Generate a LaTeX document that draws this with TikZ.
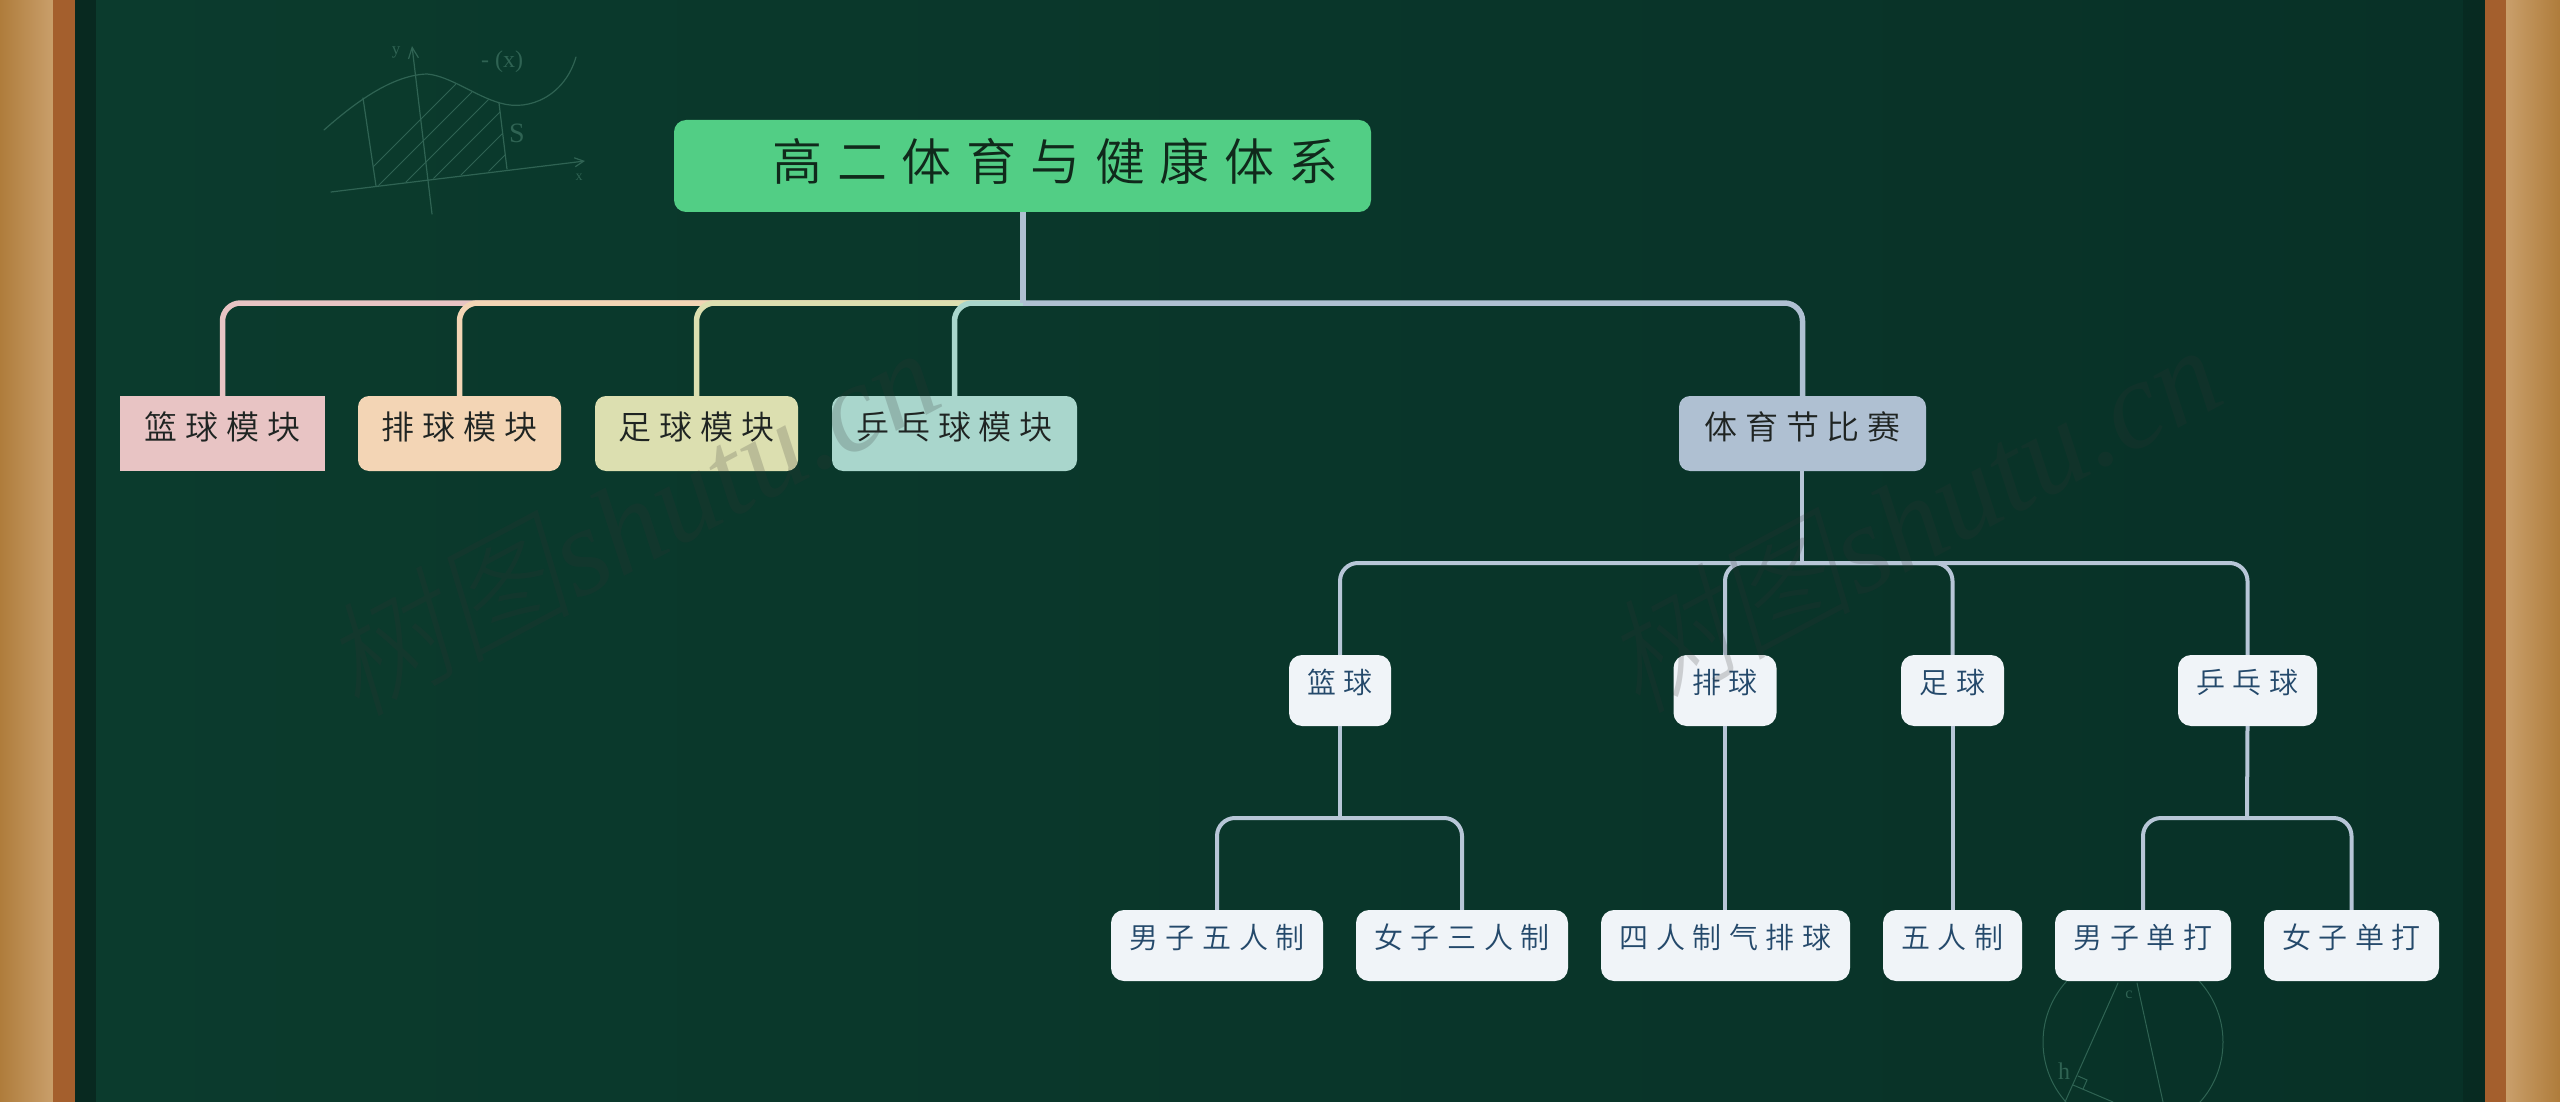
\documentclass[tikz,border=0pt]{standalone}
\usepackage{fontspec}
\setmainfont{Noto Sans CJK SC DemiLight}
\newfontfamily\rootfont[LetterSpace=29]{Noto Sans CJK SC DemiLight}
\newfontfamily\modfont[LetterSpace=24]{Noto Sans CJK SC DemiLight}
\newfontfamily\subfont[LetterSpace=26]{Noto Sans CJK SC DemiLight}
\newfontfamily\wmfont{Liberation Serif}
\newfontfamily\wmcjk[FakeSlant=0.2]{Noto Sans CJK SC Light}
\usetikzlibrary{arrows.meta}
\definecolor{boardl}{HTML}{0B3B2D}
\definecolor{boardr}{HTML}{083127}
\definecolor{woodd}{HTML}{AF7C3B}
\definecolor{woodl}{HTML}{C99F6B}
\definecolor{trim}{HTML}{A45F2D}
\definecolor{chalk}{HTML}{2F6353}
\definecolor{rootc}{HTML}{52CE85}
\definecolor{pinkc}{HTML}{E8C4C4}
\definecolor{peachc}{HTML}{F3D5B5}
\definecolor{olivec}{HTML}{DCDFB0}
\definecolor{tealc}{HTML}{A9D6CC}
\definecolor{bluec}{HTML}{AFC0D2}
\definecolor{leafc}{HTML}{F0F4F8}
\definecolor{leaftext}{HTML}{24496B}
\definecolor{modtext}{HTML}{1F2422}
\tikzset{rootbox/.style={fill=rootc,rounded corners=12pt,inner sep=0pt,minimum width=697pt,
           text height=61pt,text depth=31pt,text=black!80!rootc,font=\rootfont\fontsize{50}{60}\selectfont},
         modbox/.style={rounded corners=11pt,inner sep=0pt,text height=43pt,text depth=32pt,
           text=modtext,font=\modfont\fontsize{33}{40}\selectfont},
         subbox/.style={fill=leafc,rounded corners=13pt,inner sep=0pt,text height=38pt,text depth=33pt,
           text=leaftext,font=\subfont\fontsize{29}{35}\selectfont},
         link/.style={line width=5.5pt,rounded corners=18pt},
         sublink/.style={line width=4pt,color=bluec!90!white,rounded corners=18pt},
         sketch/.style={color=chalk,line width=1.2pt,line cap=round},
         wmark/.style={color=black!80,opacity=.2,rotate=28,font=\wmfont\itshape\fontsize{125}{140}\selectfont},
         }
\begin{document}
\begin{tikzpicture}[x=1pt,y=-1pt]
\useasboundingbox (0,0) rectangle (2560,1102);
% board and frame
\shade[left color=boardl,right color=boardr] (75,0) rectangle (2485,1102);
\fill[boardl!70!black] (75,0) rectangle (96,1102);
\fill[boardr!85!black] (2463,0) rectangle (2485,1102);
\shade[left color=woodd,right color=woodl] (0,0) rectangle (53,1102);
\shade[left color=woodl,right color=woodd] (2506,0) rectangle (2560,1102);
\fill[trim] (53,0) rectangle (75,1102);
\fill[trim] (2485,0) rectangle (2506,1102);
% chalk sketches
\begin{scope}
\clip (363,98) .. controls (395,78) and (410,74) .. (427,74) .. controls (450,78) and (475,96) .. (499,103)
  -- (507,169) -- (376,186) -- cycle;
\foreach \d in {0,24,...,312} {
  \draw[sketch,line width=1pt] (340+\d,200) -- (480+\d,60);
}
\end{scope}
\draw[sketch] (324,130) .. controls (360,98) and (395,75) .. (427,74)
  .. controls (450,76) and (475,96) .. (500,103)
  .. controls (530,112) and (565,95) .. (576,57);
\draw[sketch,-{Straight Barb[length=9pt,width=9pt]}] (331,192) -- (585,161);
\draw[sketch,-{Straight Barb[length=11pt,width=10pt]}] (432,214) -- (412,46);
\draw[sketch] (363,98) -- (376,186);
\draw[sketch] (499,103) -- (507,169);
\node[color=chalk,font=\wmfont\fontsize{17}{20}\selectfont] (lbly) at (396,52) {y};
\node[color=chalk,font=\wmfont\fontsize{28}{30}\selectfont] (lbls) at (517,133) {S};
\node[color=chalk,font=\wmfont\fontsize{14}{16}\selectfont] (lblx) at (579,177) {x};
\node[color=chalk,font=\wmfont\fontsize{24}{26}\selectfont] (lblf) at (502,62) {- (x)};
\draw[sketch,line width=1pt] (2133,1042) circle (90);
\draw[sketch,line width=1pt] (2118,983) -- (2065,1102);
\draw[sketch,line width=1pt] (2137,983) -- (2163,1102);
\draw[sketch,line width=1pt] (2073,1085) -- (2113,1102);
\draw[sketch,line width=1pt] (2078,1076) -- (2087,1080) -- (2083,1089);
\node[color=chalk,font=\wmfont\fontsize{24}{26}\selectfont] (lblh) at (2064,1071) {h};
\node[color=chalk,font=\wmfont\fontsize{16}{18}\selectfont] (lblc) at (2129,995) {c};
% boxes
\node[rootbox] (root) at (1022.5,166) {\hspace*{66pt}高二体育与健康体系};
\node[modbox,fill=pinkc,rounded corners=0pt,minimum width=205pt] (basket) at (222.5,433.5) {篮球模块};
\node[modbox,fill=peachc,minimum width=203pt] (volley) at (459.5,433.5) {排球模块};
\node[modbox,fill=olivec,minimum width=203pt] (foot) at (696.5,433.5) {足球模块};
\node[modbox,fill=tealc,minimum width=245pt] (pingpong) at (954.5,433.5) {乒乓球模块};
\node[modbox,fill=bluec,minimum width=247pt] (festival) at (1802.5,433.5) {体育节比赛};
\node[subbox,minimum width=102pt] (gbasket) at (1340,690.5) {篮球};
\node[subbox,minimum width=103pt] (gvolley) at (1725,690.5) {排球};
\node[subbox,minimum width=103pt] (gfoot) at (1952.5,690.5) {足球};
\node[subbox,minimum width=139pt] (gping) at (2247.5,690.5) {乒乓球};
\node[subbox,minimum width=212pt] (menfive) at (1217,945.5) {男子五人制};
\node[subbox,minimum width=212pt] (womenthree) at (1462,945.5) {女子三人制};
\node[subbox,minimum width=249pt] (airvolley) at (1725.5,945.5) {四人制气排球};
\node[subbox,minimum width=139pt] (fivea) at (1952.5,945.5) {五人制};
\node[subbox,minimum width=176pt] (mensingle) at (2143,945.5) {男子单打};
\node[subbox,minimum width=175pt] (womensingle) at (2351.5,945.5) {女子单打};
% links
\coordinate (busa) at (1023,303);
\coordinate (busb) at (1802,563);
\coordinate (busc) at (1340,818);
\coordinate (busd) at (2247,818);
\draw[link,color=pinkc] (busa) -| (basket.north);
\draw[link,color=peachc] (busa) -| (volley.north);
\draw[link,color=olivec] (busa) -| (foot.north);
\draw[link,color=tealc] (busa) -| (pingpong.north);
\draw[link,color=bluec] (busa) -| (festival.north);
\draw[link,color=bluec] (root.south-|busa) -- (busa);
\draw[sublink] (festival.south-|busb) -- (busb);
\foreach \n in {gbasket,gvolley,gfoot,gping} {
  \draw[sublink] (busb) -| (\n.north);
}
\draw[sublink] (gbasket.south) -- (busc);
\draw[sublink] (busc) -| (menfive.north);
\draw[sublink] (busc) -| (womenthree.north);
\draw[sublink] (gvolley.south) -- (airvolley.north-|gvolley.south);
\draw[sublink] (gfoot.south) -- (fivea.north-|gfoot.south);
\draw[sublink] (gping.south) -- (busd);
\draw[sublink] (busd) -| (mensingle.north);
\draw[sublink] (busd) -| (womensingle.north);
% watermarks
\node[wmark] (wmleft) at (630,519) {{\wmcjk 树图}shutu.cn};
\node[wmark] (wmright) at (1911,516) {{\wmcjk 树图}shutu.cn};
\end{tikzpicture}
\end{document}
